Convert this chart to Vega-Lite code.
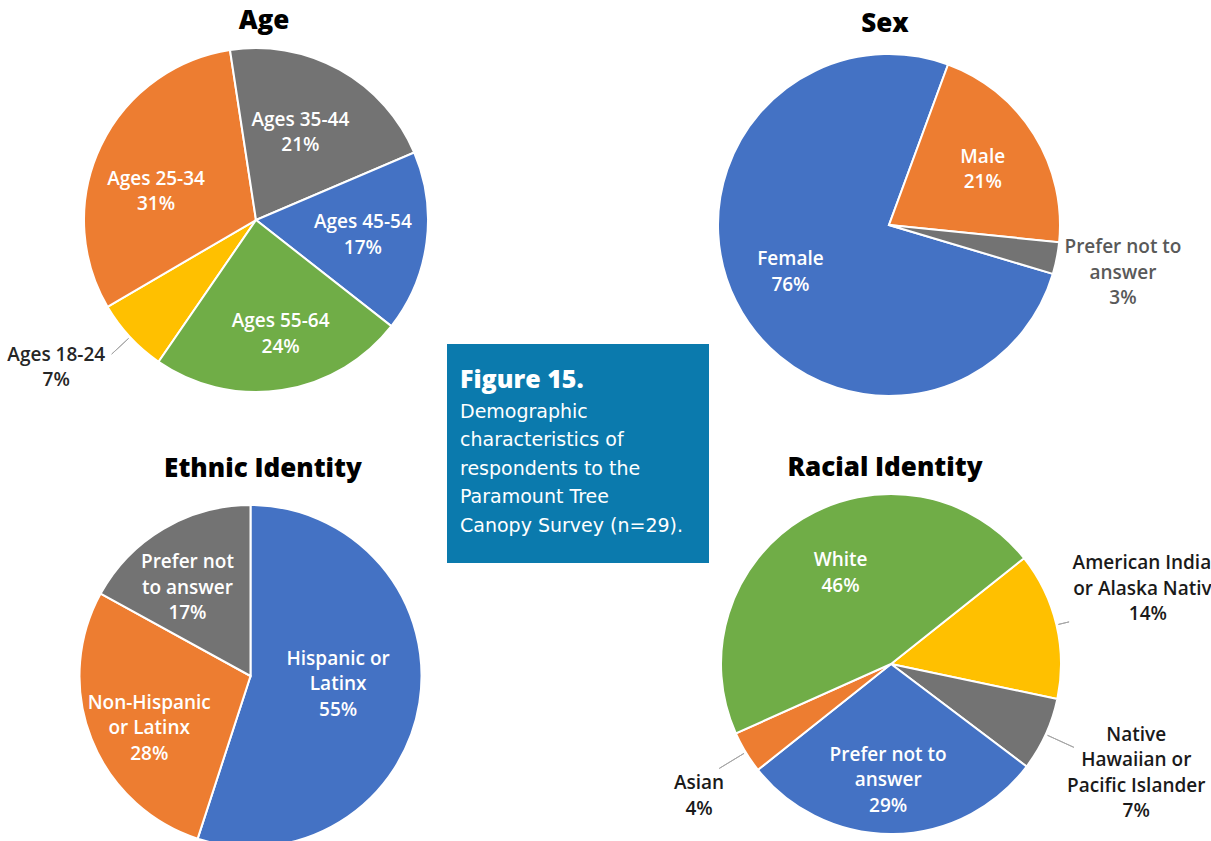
{
  "$schema": "https://vega.github.io/schema/vega-lite/v6.json",
  "background": "white",
  "padding": {"left": 7, "top": 8, "right": 0, "bottom": 0},
  "columns": 3,
  "align": "each",
  "bounds": "flush",
  "spacing": {"row": 0, "column": 19},
  "config": {
    "view": {"stroke": null},
    "title": {"font": "Open Sans", "fontSize": 26, "fontWeight": 800, "color": "#000000", "frame": "group"},
    "text": {"font": "Open Sans", "fontSize": 19, "fontWeight": 600, "lineHeight": 25.5, "lineBreak": "\n"}
  },
  "resolve": {"scale": {"color": "independent", "theta": "independent"}},
  "concat": [
    {
      "width": 344, "height": 228,
      "title": {"text": "Age", "offset": 10, "dx": 8},
      "data": {"values": [
        {"group": "Ages 18-24", "share": 0.07, "label": "Ages 18-24\n7%"},
        {"group": "Ages 25-34", "share": 0.31, "label": "Ages 25-34\n31%"},
        {"group": "Ages 35-44", "share": 0.21, "label": "Ages 35-44\n21%"},
        {"group": "Ages 45-54", "share": 0.17, "label": "Ages 45-54\n17%"},
        {"group": "Ages 55-64", "share": 0.24, "label": "Ages 55-64\n24%"}
      ]},
      "transform": [{"window": [{"op": "row_number", "as": "seq"}]}],
      "encoding": {
        "theta": {"field": "share", "type": "quantitative", "stack": true, "scale": {"domain": [0, 1], "range": [3.7437, 10.0269]}},
        "order": {"field": "seq", "type": "quantitative"},
        "detail": {"field": "group", "type": "nominal"},
        "color": {"field": "group", "type": "nominal", "legend": null, "scale": {"domain": ["Ages 18-24", "Ages 25-34", "Ages 35-44", "Ages 45-54", "Ages 55-64"], "range": ["#ffc000", "#ed7d31", "#737373", "#4472c4", "#70ad47"]}}
      },
      "layer": [
        {"mark": {"type": "arc", "outerRadius": 172, "stroke": "#ffffff", "strokeWidth": 2}},
        {"mark": {"type": "arc", "padAngle": 3, "stroke": "#a6a6a6", "strokeWidth": 1},
         "encoding": {"radius": {"value": {"expr": "datum.share < 0.1 ? 197 : 0"}}, "radius2": {"value": {"expr": "datum.share < 0.1 ? 174 : 0"}}}},
        {"mark": {"type": "text", "radius": 107, "thetaOffset": -0.08, "dy": -3},
         "encoding": {"color": {"value": "#ffffff"}, "text": {"condition": {"test": "datum.share >= 0.1", "field": "label", "type": "nominal"}, "value": ""}}},
        {"mark": {"type": "text", "thetaOffset": 0.155},
         "encoding": {"radius": {"value": {"expr": "datum.share < 0.1 ? 241 : 0"}}, "color": {"value": "#262626"}, "text": {"condition": {"test": "datum.share < 0.1", "field": "label", "type": "nominal"}, "value": ""}}}
      ]
    },
    {
      "width": 10, "height": 10,
      "data": {"values": [{"t": ""}]},
      "mark": {"type": "text"},
      "encoding": {"text": {"field": "t", "type": "nominal"}}
    },
    {
      "width": 322, "height": 238,
      "title": {"text": "Sex", "offset": 13, "dx": -4},
      "data": {"values": [
        {"group": "Female", "share": 0.76, "label": "Female\n76%"},
        {"group": "Male", "share": 0.21, "label": "Male\n21%"},
        {"group": "Prefer not to answer", "share": 0.03, "label": "Prefer not to\nanswer\n3%"}
      ]},
      "transform": [{"window": [{"op": "row_number", "as": "seq"}]}],
      "encoding": {
        "theta": {"field": "share", "type": "quantitative", "stack": true, "scale": {"domain": [0, 1], "range": [1.8605, 8.1437]}},
        "order": {"field": "seq", "type": "quantitative"},
        "detail": {"field": "group", "type": "nominal"},
        "color": {"field": "group", "type": "nominal", "legend": null, "scale": {"domain": ["Female", "Male", "Prefer not to answer"], "range": ["#4472c4", "#ed7d31", "#737373"]}}
      },
      "layer": [
        {"mark": {"type": "arc", "outerRadius": 171, "stroke": "#ffffff", "strokeWidth": 2}},
        {"mark": {"type": "text", "radius": 109, "thetaOffset": 0.023, "dy": -12.5},
         "encoding": {"color": {"value": "#ffffff"}, "text": {"condition": {"test": "datum.share >= 0.1", "field": "label", "type": "nominal"}, "value": ""}}},
        {"mark": {"type": "text", "thetaOffset": -0.101},
         "encoding": {"radius": {"value": {"expr": "datum.share < 0.1 ? 235 : 0"}}, "color": {"value": "#595959"}, "text": {"condition": {"test": "datum.share < 0.1", "field": "label", "type": "nominal"}, "value": ""}}}
      ]
    },
    {
      "width": 10, "height": 10,
      "data": {"values": [{"t": ""}]},
      "mark": {"type": "text"},
      "encoding": {"text": {"field": "t", "type": "nominal"}}
    },
    {
      "width": 262, "height": 219,
      "view": {"fill": "#0b7aad", "stroke": null},
      "title": {
        "text": "Figure 15.",
        "subtitle": ["Demographic", "characteristics of", "respondents to the", "Paramount Tree", "Canopy Survey (n=29)."],
        "anchor": "start", "frame": "group", "orient": "top", "offset": -192, "dx": 13,
        "font": "Open Sans", "fontSize": 25, "fontWeight": 800, "color": "#ffffff",
        "subtitleFont": "DejaVu Sans", "subtitleFontSize": 19, "subtitleFontWeight": "normal", "subtitleColor": "#ffffff",
        "subtitleLineHeight": 28.6, "subtitlePadding": 10
      },
      "data": {"values": [{"t": ""}]},
      "mark": {"type": "text"},
      "encoding": {"text": {"field": "t", "type": "nominal"}}
    },
    {
      "width": 10, "height": 10,
      "data": {"values": [{"t": ""}]},
      "mark": {"type": "text"},
      "encoding": {"text": {"field": "t", "type": "nominal"}}
    },
    {
      "width": 333, "height": 226,
      "title": {"text": "Ethnic Identity", "offset": 19, "dx": 12.5},
      "data": {"values": [
        {"group": "Hispanic or Latinx", "share": 0.55, "label": "Hispanic or\nLatinx\n55%"},
        {"group": "Non-Hispanic or Latinx", "share": 0.28, "label": "Non-Hispanic\nor Latinx\n28%"},
        {"group": "Prefer not to answer", "share": 0.17, "label": "Prefer not\nto answer\n17%"}
      ]},
      "transform": [{"window": [{"op": "row_number", "as": "seq"}]}],
      "encoding": {
        "theta": {"field": "share", "type": "quantitative", "stack": true, "scale": {"domain": [0, 1], "range": [0, 6.2832]}},
        "order": {"field": "seq", "type": "quantitative"},
        "detail": {"field": "group", "type": "nominal"},
        "color": {"field": "group", "type": "nominal", "legend": null, "scale": {"domain": ["Hispanic or Latinx", "Non-Hispanic or Latinx", "Prefer not to answer"], "range": ["#4472c4", "#ed7d31", "#737373"]}}
      },
      "layer": [
        {"mark": {"type": "arc", "outerRadius": 171, "stroke": "#ffffff", "strokeWidth": 2}},
        {"mark": {"type": "text", "radius": 88, "thetaOffset": -0.065, "dy": -25.5},
         "encoding": {"color": {"value": "#ffffff"}, "text": {"condition": {"test": "datum.share > 0.5", "field": "label", "type": "nominal"}, "value": ""}}},
        {"mark": {"type": "text", "radius": 112, "thetaOffset": -0.064, "dy": -21},
         "encoding": {"color": {"value": "#ffffff"}, "text": {"condition": {"test": "datum.share <= 0.5", "field": "label", "type": "nominal"}, "value": ""}}}
      ]
    },
    {
      "width": 10, "height": 10,
      "data": {"values": [{"t": ""}]},
      "mark": {"type": "text"},
      "encoding": {"text": {"field": "t", "type": "nominal"}}
    },
    {
      "width": 326, "height": 202,
      "title": {"text": "Racial Identity", "offset": 9, "dx": -6},
      "data": {"values": [
        {"group": "American Indian or Alaska Native", "share": 0.14, "label": "American Indian\nor Alaska Native\n14%"},
        {"group": "Native Hawaiian or Pacific Islander", "share": 0.07, "label": "Native\nHawaiian or\nPacific Islander\n7%"},
        {"group": "Prefer not to answer", "share": 0.29, "label": "Prefer not to\nanswer\n29%"},
        {"group": "Asian", "share": 0.04, "label": "Asian\n4%"},
        {"group": "White", "share": 0.46, "label": "White\n46%"}
      ]},
      "transform": [{"window": [{"op": "row_number", "as": "seq"}]}],
      "encoding": {
        "theta": {"field": "share", "type": "quantitative", "stack": true, "scale": {"domain": [0, 1], "range": [0.8988, 7.182]}},
        "order": {"field": "seq", "type": "quantitative"},
        "detail": {"field": "group", "type": "nominal"},
        "color": {"field": "group", "type": "nominal", "legend": null, "scale": {"domain": ["American Indian or Alaska Native", "Native Hawaiian or Pacific Islander", "Prefer not to answer", "Asian", "White"], "range": ["#ffc000", "#737373", "#4472c4", "#ed7d31", "#70ad47"]}}
      },
      "layer": [
        {"mark": {"type": "arc", "outerRadius": 170, "stroke": "#ffffff", "strokeWidth": 2}},
        {"mark": {"type": "arc", "padAngle": 3, "stroke": "#a6a6a6", "strokeWidth": 1},
         "encoding": {"radius": {"value": {"expr": "datum.share < 0.15 ? (datum.share >= 0.1 ? 183 : 201) : 0"}}, "radius2": {"value": {"expr": "datum.share < 0.15 ? 172 : 0"}}}},
        {"mark": {"type": "text", "radius": 104, "thetaOffset": 0.04, "dy": -13},
         "encoding": {"color": {"value": "#ffffff"}, "text": {"condition": {"test": "datum.share >= 0.15", "field": "label", "type": "nominal"}, "value": ""}}},
        {"mark": {"type": "text", "thetaOffset": -0.03, "dy": -32},
         "encoding": {"radius": {"value": {"expr": "datum.share >= 0.05 && datum.share < 0.15 ? 266 : 0"}}, "color": {"value": "#1a1a1a"}, "text": {"condition": {"test": "datum.share >= 0.05 && datum.share < 0.15", "field": "label", "type": "nominal"}, "value": ""}}},
        {"mark": {"type": "text", "thetaOffset": -0.01},
         "encoding": {"radius": {"value": {"expr": "datum.share < 0.05 ? 226 : 0"}}, "color": {"value": "#1a1a1a"}, "text": {"condition": {"test": "datum.share < 0.05", "field": "label", "type": "nominal"}, "value": ""}}}
      ]
    }
  ]
}
